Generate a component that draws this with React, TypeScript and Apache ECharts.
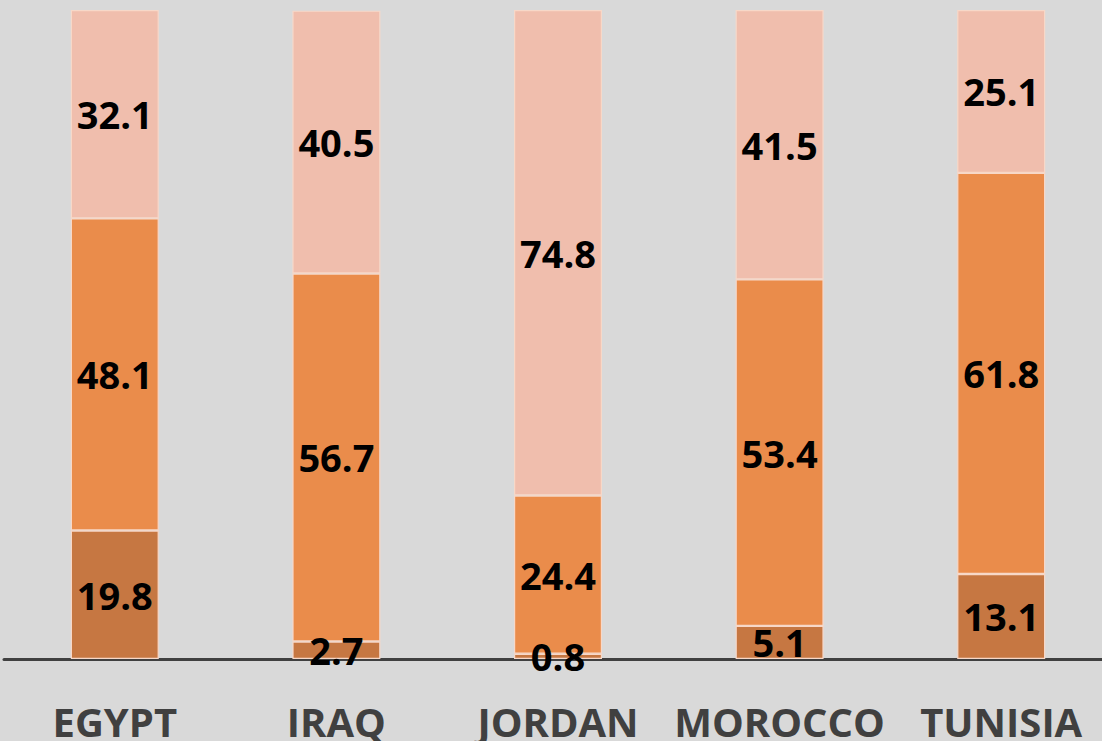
import React, { useEffect, useRef } from "react";
import * as echarts from "echarts";

const countries = ["EGYPT", "IRAQ", "JORDAN", "MOROCCO", "TUNISIA"];
const bottomValues = [19.8, 2.7, 0.8, 5.1, 13.1];
const middleValues = [48.1, 56.7, 24.4, 53.4, 61.8];
const topValues = [32.1, 40.5, 74.8, 41.5, 25.1];

const colors = ["#c67742", "#ea8c4b", "#f0bead"];

export default function App() {
  const ref = useRef<HTMLDivElement>(null);
  useEffect(() => {
    document.body.style.margin = "0";
    const chart = echarts.init(ref.current!, null, { renderer: "svg" });
    const mk = (name: string, data: number[], color: string) => ({
      name,
      type: "bar",
      stack: "total",
      data,
      barWidth: 88,
      itemStyle: { color, borderColor: "#f7d8c8", borderWidth: 1.2 },
      label: {
        show: true,
        position: "inside",
        color: "#000",
        fontFamily: "Open Sans",
        fontWeight: "bold",
        fontSize: 38,
        formatter: (p: any) => p.value.toFixed(1),
      },
    });
    chart.setOption({
      animation: false,
      backgroundColor: "#d9d9d9",
      grid: { left: 4, right: 0, top: 10, bottom: 82 },
      xAxis: {
        type: "category",
        data: countries,
        axisTick: { show: false },
        axisLine: { lineStyle: { color: "#404040", width: 3 } },
        axisLabel: {
          color: "#404040",
          fontFamily: "Open Sans",
          fontWeight: "bold",
          fontSize: 40,
          margin: 42,
          interval: 0,
        },
      },
      yAxis: { type: "value", min: 0, max: 100, show: false, splitLine: { show: false } },
      series: [
        mk("bottom", bottomValues, colors[0]),
        mk("middle", middleValues, colors[1]),
        mk("top", topValues, colors[2]),
      ],
    });
    return () => chart.dispose();
  }, []);
  return (
    <div style={{ width: 1102, height: 741, overflow: "hidden", background: "#d9d9d9" }}>
      <div ref={ref} style={{ width: 1112, height: 741 }} />
    </div>
  );
}
